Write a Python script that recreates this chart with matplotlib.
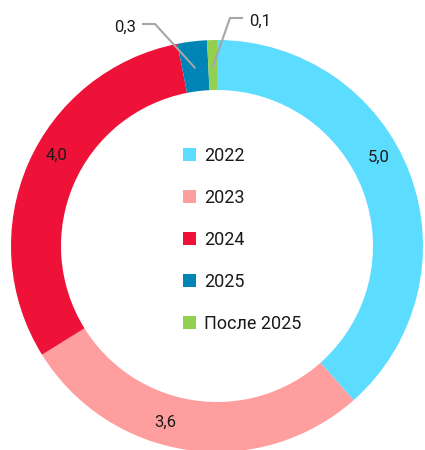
import numpy as np
import matplotlib
matplotlib.use("Agg")
import matplotlib.pyplot as plt

# data
categories = ["2022", "2023", "2024", "2025", "После 2025"]
values = [5.0, 3.6, 4.0, 0.3, 0.1]
value_labels = ["5,0", "3,6", "4,0", "0,3", "0,1"]
colors = ["#5CDCFF", "#FF9E9E", "#EE1238", "#0084B5", "#92D050"]

plt.rcParams['font.family'] = ['Roboto', 'DejaVu Sans']

W, H = 425, 450
fig = plt.figure(figsize=(W / 100, H / 100), dpi=100)
ax = fig.add_axes([0, 0, 1, 1])

cx, cy = 217, 204
r_out, ring = 206, 50

wedges, _ = ax.pie(values, colors=colors, startangle=90, counterclock=False,
                   center=(cx, cy), radius=r_out,
                   wedgeprops=dict(width=ring, linewidth=0))
ax.set_xlim(0, W)
ax.set_ylim(0, H)
ax.set_aspect('equal')
ax.axis('off')

# labels inside ring (angle offsets from wedge middle, tuned by eye)
r_lab = r_out - ring / 2 + 3
offsets = [8, -8, -6]
for i, w in enumerate(wedges[:3]):
    mid = (w.theta1 + w.theta2) / 2 + offsets[i]
    x = cx + r_lab * np.cos(np.radians(mid))
    y = cy + r_lab * np.sin(np.radians(mid))
    ax.text(x, y, value_labels[i], ha='center', va='center', fontsize=12, color='#1a1a1a')

# small slices with leader lines: text anchor (pixels from top-left), side
leaders = {3: (136, 27, -1), 4: (249, 21, 1)}
for i, (tx, ty, side) in leaders.items():
    w = wedges[i]
    mid = (w.theta1 + w.theta2) / 2
    r_end = r_out - ring / 2 - 2
    x0 = cx + r_end * np.cos(np.radians(mid))
    y0 = cy + r_end * np.sin(np.radians(mid))
    ty = H - ty
    ax.plot([x0, tx - side * 19, tx - side * 6], [y0, ty + 3, ty + 3],
            color='#A6A6A6', lw=1.5, solid_capstyle='butt')
    ax.text(tx, ty, value_labels[i], ha='right' if side < 0 else 'left',
            va='center', fontsize=12, color='#1a1a1a')

leg = ax.legend(wedges, categories, loc='upper left', bbox_to_anchor=(183 / W, 1 - 147 / H),
                bbox_transform=fig.transFigure, frameon=False, fontsize=13,
                handlelength=0.72, handleheight=0.72, handletextpad=0.45,
                labelspacing=1.33, borderpad=0, borderaxespad=0)
for t in leg.get_texts():
    t.set_color('#1a1a1a')

fig.savefig("out.png", dpi=100)
